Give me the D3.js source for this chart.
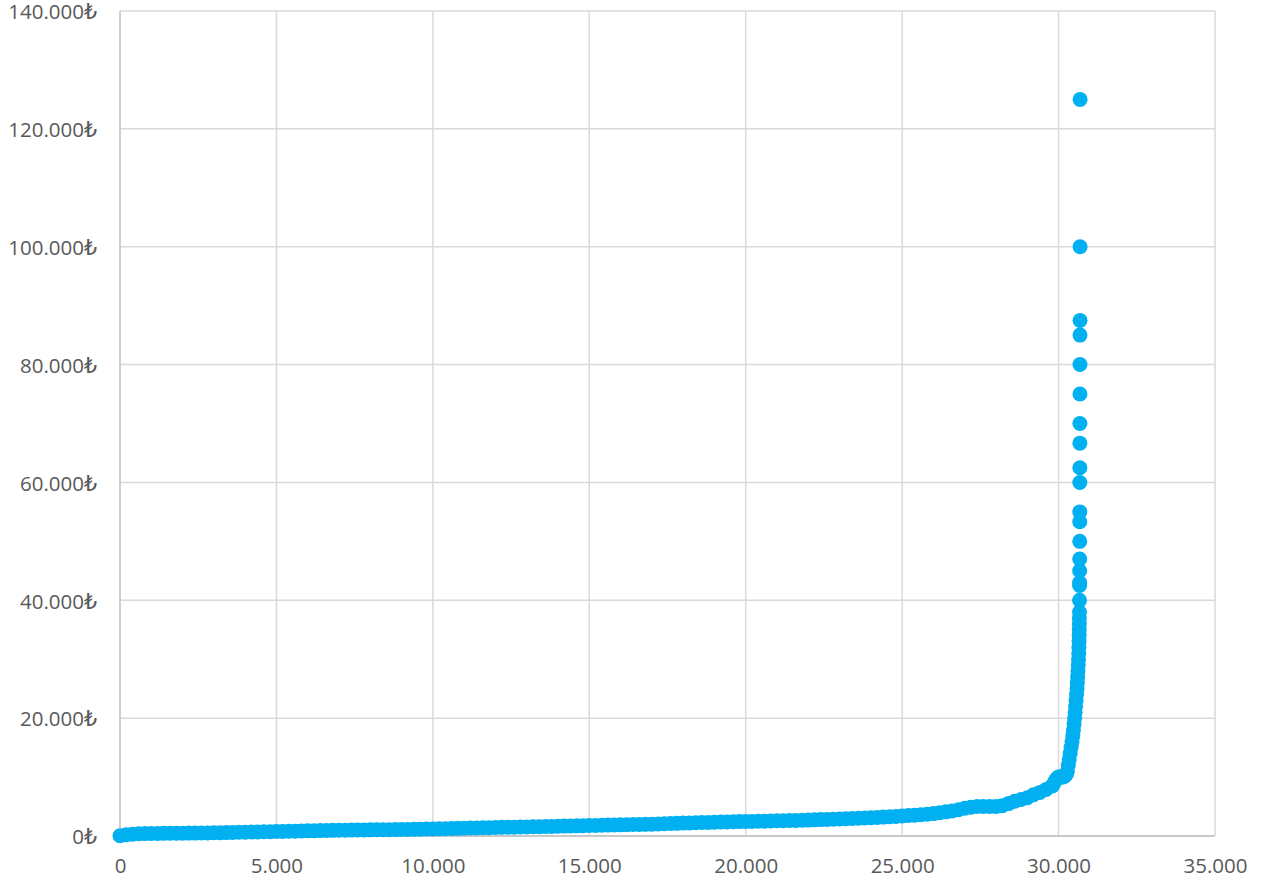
<!DOCTYPE html>
<html>
<head>
<meta charset="utf-8">
<script src="https://cdn.jsdelivr.net/npm/d3@7"></script>
<style>
  body { margin: 0; background: #fff; }
  text { font-family: "Open Sans", "DejaVu Sans", sans-serif; }
</style>
</head>
<body>
<script>
const width = 1266;
const height = 884;

// sorted amounts: [rank, value]
const flatPart = [
  [0, 50], [200, 200], [400, 300], [600, 370], [800, 410], [1000, 430], [1200, 440], [1400, 450],
  [1600, 460], [1800, 470], [2000, 480], [2200, 490], [2400, 495], [2600, 500], [2800, 520],
  [3000, 540], [3200, 560], [3400, 580], [3600, 600], [3800, 630], [4000, 650], [4200, 670],
  [4400, 700], [4600, 720], [4800, 740], [5000, 760], [5200, 780], [5400, 800], [5600, 820],
  [5800, 840], [6000, 870], [6200, 890], [6400, 920], [6600, 940], [6800, 960], [7000, 980],
  [7200, 990], [7400, 1000], [7600, 1010], [7800, 1020], [8000, 1040], [8200, 1050], [8400, 1060],
  [8600, 1080], [8800, 1090], [9000, 1100], [9200, 1120], [9400, 1140], [9600, 1160], [9800, 1180],
  [10000, 1200], [10200, 1220], [10400, 1250], [10600, 1270], [10800, 1300], [11000, 1320],
  [11200, 1350], [11400, 1370], [11600, 1400], [11800, 1420], [12000, 1450], [12200, 1470],
  [12400, 1490], [12600, 1500], [12800, 1520], [13000, 1540], [13200, 1560], [13400, 1580],
  [13600, 1600], [13800, 1630], [14000, 1650], [14200, 1680], [14400, 1700], [14600, 1720],
  [14800, 1750], [15000, 1780], [15200, 1800], [15400, 1820], [15600, 1850], [15800, 1870],
  [16000, 1890], [16200, 1910], [16400, 1940], [16600, 1960], [16800, 1980], [17000, 2000],
  [17200, 2030], [17400, 2070], [17600, 2110], [17800, 2150], [18000, 2190], [18200, 2220],
  [18400, 2250], [18600, 2280], [18800, 2310], [19000, 2340], [19200, 2370], [19400, 2390],
  [19600, 2410], [19800, 2440], [20000, 2460], [20200, 2480], [20400, 2500], [20600, 2520],
  [20800, 2550], [21000, 2580], [21200, 2600], [21400, 2620], [21600, 2650], [21800, 2680],
  [22000, 2700], [22200, 2740], [22400, 2780], [22600, 2820], [22800, 2860], [23000, 2900],
  [23200, 2940], [23400, 2980], [23600, 3010], [23800, 3050], [24000, 3100], [24200, 3150],
  [24400, 3210], [24600, 3270], [24800, 3330], [25000, 3400], [25200, 3470], [25400, 3540],
  [25600, 3610], [25800, 3700], [26000, 3800], [26200, 3950], [26400, 4100], [26600, 4250],
  [26800, 4450], [27000, 4700], [27200, 4900], [27400, 5000], [27600, 5000], [27800, 5000],
  [28000, 5000], [28200, 5150], [28400, 5500], [28600, 5900], [28800, 6200], [29000, 6500],
  [29200, 7000], [29400, 7400], [29600, 7900], [29800, 8500]
];

const kneePart = [
  [29850, 8900], [29900, 9400], [29950, 9800], [30000, 10000], [30050, 10000], [30100, 10000],
  [30150, 10000], [30200, 10200], [30250, 10500], [30280, 11000], [30310, 12000], [30340, 13000],
  [30370, 14000], [30400, 15000], [30430, 16000], [30455, 17000], [30475, 18000], [30495, 19000],
  [30515, 20000], [30530, 21000], [30545, 22000], [30560, 23000], [30575, 24000], [30590, 25000],
  [30600, 26000], [30610, 27000], [30620, 28000], [30630, 29000], [30638, 30000], [30645, 31000],
  [30650, 32000], [30655, 33000], [30658, 34000], [30661, 35000], [30664, 36000], [30666, 37000],
  [30668, 38000]
];

const tailPart = [
  [30670, 40000], [30672, 42500], [30673, 43000], [30674, 45000], [30675, 47000], [30676, 50000],
  [30677, 53333], [30678, 55000], [30679, 60000], [30680, 62500], [30681, 66667], [30682, 70000],
  [30683, 75000], [30684, 80000], [30685, 85000], [30686, 87500], [30687, 100000], [30688, 125000]
];

const xTicks = [0, 5000, 10000, 15000, 20000, 25000, 30000, 35000];
const yTicks = [0, 20000, 40000, 60000, 80000, 100000, 120000, 140000];

const margin = { top: 11, right: 51, bottom: 48, left: 120 };

const tr = d3.formatLocale({ decimal: ",", thousands: ".", grouping: [3], currency: ["", "₺"] });
const fmtX = tr.format(",.0f");
const fmtY = tr.format("$,.0f");

const svg = d3.select("body")
    .append("svg")
    .attr("width", width)
    .attr("height", height);

const x = d3.scaleLinear()
    .domain([0, 35000])
    .range([margin.left, width - margin.right]);

const y = d3.scaleLinear()
    .domain([0, 140000])
    .range([height - margin.bottom, margin.top]);

// gridlines
svg.append("g")
    .selectAll("line.h")
    .data(yTicks)
    .enter()
    .append("line")
    .attr("x1", x(0))
    .attr("x2", x(35000))
    .attr("y1", d => y(d))
    .attr("y2", d => y(d))
    .attr("stroke", "#d9d9d9")
    .attr("stroke-width", 1.5);

svg.append("g")
    .selectAll("line.v")
    .data(xTicks)
    .enter()
    .append("line")
    .attr("x1", d => x(d))
    .attr("x2", d => x(d))
    .attr("y1", y(0))
    .attr("y2", y(140000))
    .attr("stroke", d => d === 0 ? "#bfbfbf" : "#d9d9d9")
    .attr("stroke-width", 1.5);

svg.append("line")
    .attr("x1", x(0))
    .attr("x2", x(35000))
    .attr("y1", y(0))
    .attr("y2", y(0))
    .attr("stroke", "#bfbfbf")
    .attr("stroke-width", 1.5);

// axes (labels only)
const yAxis = svg.append("g")
    .attr("transform", `translate(${x(0) - 23},0)`)
    .call(d3.axisLeft(y).tickValues(yTicks).tickFormat(fmtY).tickSize(0));

const xAxis = svg.append("g")
    .attr("transform", `translate(0,${y(0) + 22})`)
    .call(d3.axisBottom(x).tickValues(xTicks).tickFormat(fmtX).tickSize(0));

[xAxis, yAxis].forEach(g => {
    g.select(".domain").remove();
    g.selectAll("text")
        .attr("fill", "#595959")
        .style("font-size", "20.5px")
        .style("font-family", "'Open Sans', 'DejaVu Sans', sans-serif");
});
yAxis.selectAll("text").attr("x", 0).attr("dy", "0.38em");
xAxis.selectAll("text").attr("y", 0).attr("dy", "0.71em");

// points
const points = flatPart.concat(kneePart, tailPart);

svg.append("g")
    .selectAll("circle")
    .data(points)
    .enter()
    .append("circle")
    .attr("cx", d => x(d[0]))
    .attr("cy", d => y(d[1]))
    .attr("r", 7.5)
    .attr("fill", "#00b0f0");
</script>
</body>
</html>
